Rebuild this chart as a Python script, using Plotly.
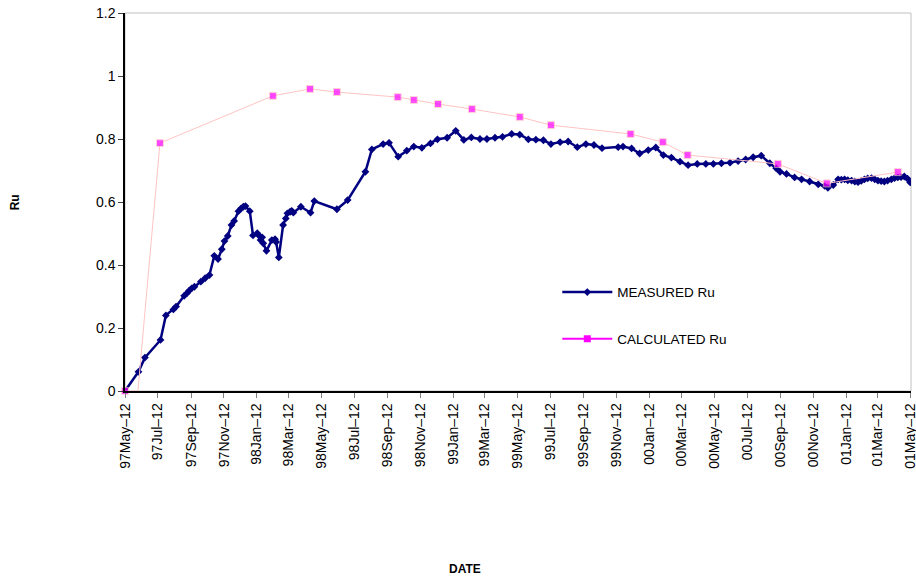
import pandas as pd
import plotly.graph_objects as go

# ---------------------------------------------------------------- data
start_date = "1997-05-12"

# measured Ru: days since start, value
measured_days = [0, 25, 37, 66, 76, 90, 95, 110, 115, 119, 124, 129, 141, 149, 157, 166, 173,
                 180, 185, 191, 198, 203, 211, 216, 220, 224, 232, 238, 246, 250, 252, 255, 257,
                 263, 273, 279, 281, 286, 294, 299, 302, 307, 310, 313, 327, 345, 352, 394, 414,
                 447, 459, 480, 491, 508, 524, 537, 552, 568, 581, 599, 615, 630, 644, 660, 673,
                 688, 702, 719, 734, 750, 764, 778, 792, 809, 824, 841, 857, 872, 887, 917, 926,
                 942, 957, 973, 987, 1001, 1016, 1032, 1047, 1064, 1080, 1094, 1109, 1125, 1140,
                 1154, 1168, 1183, 1199, 1211, 1218, 1230, 1245, 1258, 1273, 1289, 1301, 1307,
                 1317, 1326, 1332, 1338, 1344, 1351, 1357, 1363, 1369, 1375, 1381, 1388, 1394,
                 1400, 1406, 1412, 1418, 1425, 1431, 1437, 1443, 1449, 1455, 1460]
measured_ru = [0.000, 0.061, 0.106, 0.162, 0.240, 0.259, 0.268, 0.302, 0.310, 0.318, 0.326, 0.331,
               0.347, 0.358, 0.368, 0.429, 0.419, 0.450, 0.476, 0.492, 0.527, 0.540, 0.571, 0.580,
               0.585, 0.587, 0.571, 0.494, 0.501, 0.492, 0.479, 0.488, 0.469, 0.445, 0.479, 0.482,
               0.473, 0.424, 0.527, 0.548, 0.564, 0.569, 0.572, 0.566, 0.585, 0.566, 0.603, 0.577,
               0.606, 0.696, 0.767, 0.784, 0.788, 0.744, 0.763, 0.776, 0.772, 0.786, 0.799, 0.804,
               0.826, 0.797, 0.805, 0.800, 0.800, 0.804, 0.807, 0.816, 0.814, 0.799, 0.798, 0.796,
               0.784, 0.790, 0.792, 0.774, 0.784, 0.781, 0.771, 0.774, 0.776, 0.770, 0.754, 0.765,
               0.773, 0.749, 0.741, 0.728, 0.717, 0.721, 0.721, 0.721, 0.723, 0.725, 0.730, 0.735,
               0.742, 0.747, 0.723, 0.707, 0.696, 0.689, 0.678, 0.672, 0.665, 0.656, 0.651, 0.645,
               0.654, 0.672, 0.671, 0.672, 0.669, 0.668, 0.665, 0.663, 0.667, 0.672, 0.675, 0.676,
               0.672, 0.668, 0.666, 0.665, 0.668, 0.672, 0.676, 0.678, 0.679, 0.681, 0.674, 0.662]

# calculated Ru (second point has no marker in the original)
calc_days = [0, 24, 65, 275, 344, 394, 507, 537, 582, 645, 734, 792, 940, 1000, 1046, 1214, 1305, 1437]
calc_ru = [0.0, 0.0, 0.787, 0.937, 0.959, 0.949, 0.933, 0.924, 0.911, 0.895, 0.870, 0.844,
           0.816, 0.790, 0.749, 0.721, 0.659, 0.695]

tick_labels = ["97May–12", "97Jul–12", "97Sep–12", "97Nov–12", "98Jan–12", "98Mar–12",
               "98May–12", "98Jul–12", "98Sep–12", "98Nov–12", "99Jan–12", "99Mar–12",
               "99May–12", "99Jul–12", "99Sep–12", "99Nov–12", "00Jan–12", "00Mar–12",
               "00May–12", "00Jul–12", "00Sep–12", "00Nov–12", "01Jan–12", "01Mar–12",
               "01May–12"]

# ---------------------------------------------------------------- figure
t0 = pd.Timestamp(start_date)
measured_x = [t0 + pd.Timedelta(days=d) for d in measured_days]
calc_x = [t0 + pd.Timedelta(days=d) for d in calc_days]
tick_vals = [pd.to_datetime(s.replace("–", ""), format="%y%b%d") for s in tick_labels]

FONT = "Liberation Sans, Arial, sans-serif"
NAVY = "#000080"
MAGENTA = "#FF00FF"

calc_sizes = [7] * len(calc_days)
calc_sizes[1] = 0

fig = go.Figure()
fig.add_trace(go.Scatter(x=measured_x, y=measured_ru, mode="lines+markers", name="MEASURED Ru",
                         line=dict(color=NAVY, width=2.5),
                         marker=dict(symbol="diamond", size=6, color=NAVY),
                         legendgroup="m"))
fig.add_trace(go.Scatter(x=calc_x, y=calc_ru, mode="lines+markers", showlegend=False,
                         line=dict(color="#FFC4C4", width=1),
                         marker=dict(symbol="square", size=calc_sizes, color=MAGENTA),
                         cliponaxis=False))
# legend entry only
fig.add_trace(go.Scatter(x=[None], y=[None], mode="lines+markers", name="CALCULATED Ru",
                         line=dict(color=MAGENTA, width=2),
                         marker=dict(symbol="square", size=7, color=MAGENTA),
                         legendgroup="c"))

fig.update_layout(
    width=916, height=580,
    margin=dict(l=125, r=5, t=13, b=189),
    paper_bgcolor="white", plot_bgcolor="white",
    font=dict(family=FONT, size=14, color="black"),
    legend=dict(x=0.550, y=0.302, xanchor="left", yanchor="top", bgcolor="rgba(0,0,0,0)",
                tracegroupgap=26, itemwidth=50, font=dict(size=13.5)),
    shapes=[dict(type="rect", xref="paper", yref="paper", x0=0, x1=1, y0=0, y1=1,
                 line=dict(color="#c0c0c0", width=1), layer="below")],
    annotations=[
        dict(text="<b>Ru</b>", xref="paper", yref="paper", x=-0.151, y=0.5, textangle=-90,
             showarrow=False, font=dict(size=12)),
        dict(text="<b>DATE</b>", xref="paper", yref="paper", x=0.433, y=-0.495,
             showarrow=False, font=dict(size=12)),
    ],
)
fig.update_xaxes(type="date", range=[tick_vals[0], tick_vals[-1] + pd.Timedelta(hours=12)],
                 tickvals=tick_vals,
                 ticktext=tick_labels, tickangle=-90, ticks="outside", ticklen=5,
                 tickcolor="#808080", showline=True, linecolor="black", linewidth=1.5,
                 showgrid=False, zeroline=False, tickfont=dict(size=14), automargin=False,
                 ticklabeloverflow="allow")
fig.update_yaxes(range=[0, 1.2], dtick=0.2, ticks="outside", ticklen=5, tickcolor="#404040",
                 showline=True, linecolor="black", linewidth=1.5, showgrid=False,
                 zeroline=False, tickfont=dict(size=14), automargin=False,
                 ticklabeloverflow="allow")

# drop the default 8px page margin so the figure fills the window exactly
fig.write_html("out.html", config={"displayModeBar": False},
               post_script="document.body.style.margin = '0';")
